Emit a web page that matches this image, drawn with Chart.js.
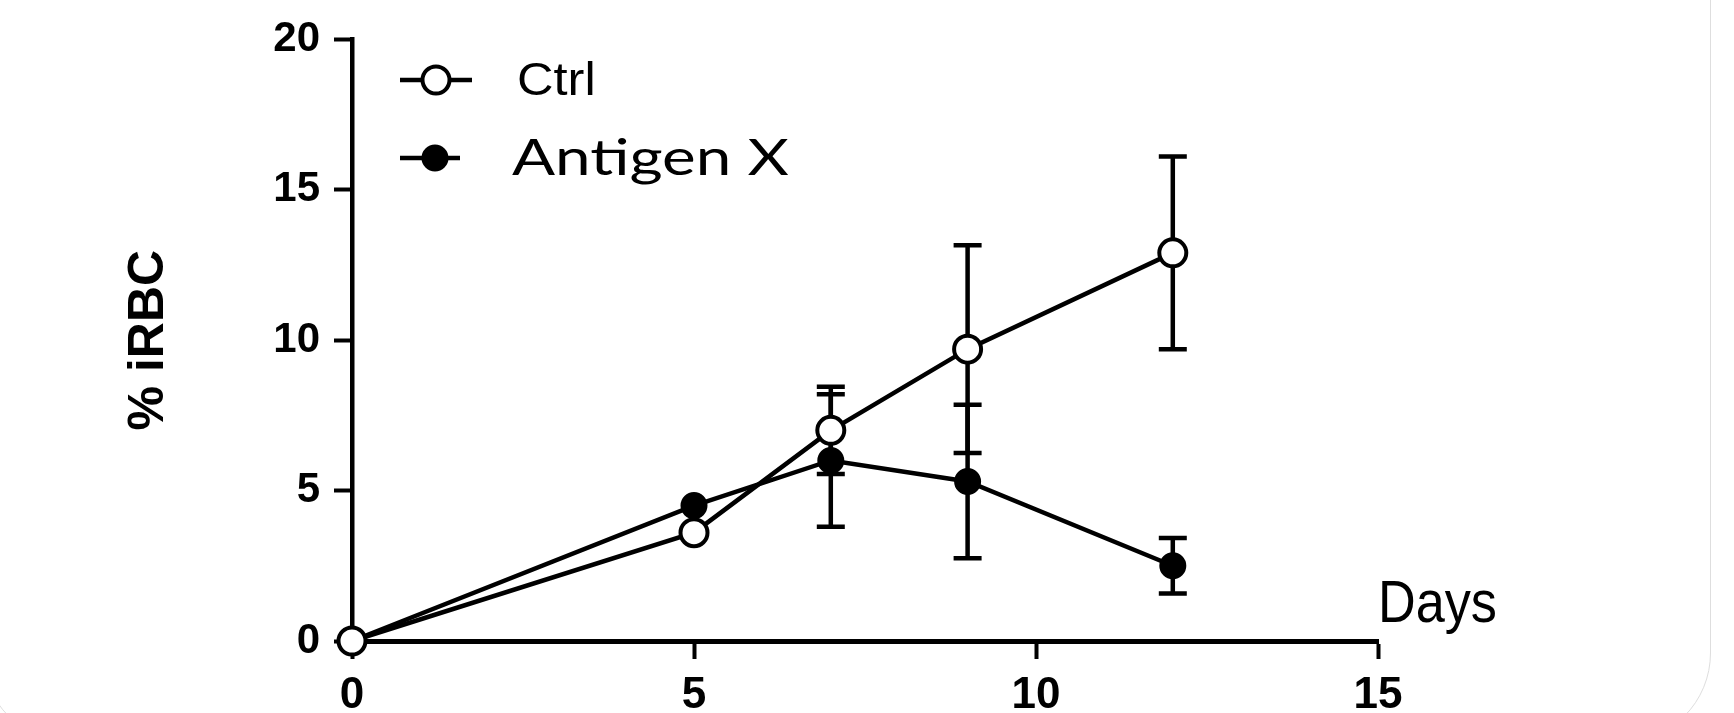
<!DOCTYPE html>
<html>
<head>
<meta charset="utf-8">
<script src="https://cdn.jsdelivr.net/npm/chart.js@4.4.1/dist/chart.umd.min.js"></script>
<style>
html, body { margin: 0; padding: 0; background: #fff; overflow: hidden; }
#wrap { position: relative; width: 1734px; height: 713px; overflow: hidden; }
#card { position: absolute; left: -18px; top: -200px; width: 1729px; height: 943px; border: 1.5px solid #dedede; border-radius: 90px; box-sizing: border-box; }
#mainChart { position: absolute; left: 0; top: 0; }
</style>
</head>
<body>
<div id="wrap">
  <div id="card"></div>
  <canvas id="mainChart" width="1734" height="713"></canvas>
</div>
<script>
// datos
const days = [0, 5, 7, 9, 12];
const ctrlValues = [0, 3.6, 7.0, 9.7, 12.9];
const ctrlErrors = [0, 0, 1.45, 3.45, 3.2];
const antigenValues = [0, 4.5, 6.0, 5.3, 2.5];
const antigenErrors = [0, 0, 2.2, 2.55, 0.92];
const xTicks = [0, 5, 10, 15];
const yTicks = [0, 5, 10, 15, 20];
const seriesLabels = ['Ctrl', 'Antigen X'];
const xAxisLabel = 'Days';
const yAxisLabel = '% iRBC';

const ARIAL = "'Liberation Sans', Arial, sans-serif";

function toPoints(vals){
  return days.map((d, i) => ({ x: d, y: vals[i] }));
}

// barras de error (media +/- error), antes de los puntos
const errorBars = {
  id: 'errorBars',
  beforeDatasetsDraw(chart){
    const { ctx, scales: { x, y } } = chart;
    ctx.save();
    ctx.strokeStyle = '#000';
    ctx.lineWidth = 4.5;
    chart.data.datasets.forEach(ds => {
      ds.errors.forEach((e, i) => {
        if(!e) return;
        const p = ds.data[i];
        const px = x.getPixelForValue(p.x);
        const top = y.getPixelForValue(p.y + e);
        const bot = y.getPixelForValue(p.y - e);
        ctx.beginPath();
        ctx.moveTo(px, top); ctx.lineTo(px, bot);
        ctx.moveTo(px - 14, top); ctx.lineTo(px + 14, top);
        ctx.moveTo(px - 14, bot); ctx.lineTo(px + 14, bot);
        ctx.stroke();
      });
    });
    ctx.restore();
  }
};

// leyenda tipo GraphPad (linea + marcador)
const lineLegend = {
  id: 'lineLegend',
  afterDraw(chart, args, opts){
    const ctx = chart.ctx;
    chart.data.datasets.forEach((ds, i) => {
      const it = opts.items[i];
      ctx.save();
      ctx.strokeStyle = '#000';
      ctx.lineWidth = ds.borderWidth;
      ctx.beginPath();
      ctx.moveTo(it.x0, it.y); ctx.lineTo(it.x1, it.y);
      ctx.stroke();
      ctx.beginPath();
      ctx.arc(it.cx, it.y, ds.pointRadius, 0, Math.PI * 2);
      ctx.fillStyle = ds.pointBackgroundColor;
      ctx.fill();
      ctx.lineWidth = ds.pointBorderWidth;
      ctx.stroke();
      ctx.font = it.font;
      ctx.fillStyle = '#000';
      ctx.textBaseline = 'alphabetic';
      ctx.translate(it.tx, it.ty);
      ctx.scale(it.sx, 1);
      ctx.fillText(ds.label, 0, 0);
      ctx.restore();
    });
  }
};

// etiqueta "Days" sobre el final del eje x
const daysLabel = {
  id: 'daysLabel',
  afterDraw(chart){
    const { ctx, scales: { x, y } } = chart;
    ctx.save();
    ctx.font = '60px ' + ARIAL;
    ctx.fillStyle = '#000';
    ctx.textBaseline = 'alphabetic';
    ctx.translate(x.right, y.getPixelForValue(0) - 19);
    ctx.scale(0.87, 1);
    ctx.fillText(xAxisLabel, 0, 0);
    ctx.restore();
  }
};

const ctx = document.getElementById('mainChart').getContext('2d');

const chart = new Chart(ctx, {
  type: 'line',
  data: {
    datasets: [
      {
        label: seriesLabels[0],
        data: toPoints(ctrlValues),
        errors: ctrlErrors,
        borderColor: '#000',
        borderWidth: 4.5,
        pointRadius: 13.5,
        pointBorderWidth: 4,
        pointBackgroundColor: '#fff',
        pointBorderColor: '#000',
        tension: 0,
        clip: false
      },
      {
        label: seriesLabels[1],
        data: toPoints(antigenValues),
        errors: antigenErrors,
        borderColor: '#000',
        borderWidth: 4.5,
        pointRadius: 12,
        pointBorderWidth: 3,
        pointBackgroundColor: '#000',
        pointBorderColor: '#000',
        tension: 0,
        clip: false
      }
    ]
  },
  options: {
    responsive: false,
    animation: false,
    events: [],
    layout: { padding: { top: 35, right: 356, left: 0, bottom: 0 } },
    plugins: {
      legend: { display: false },
      tooltip: { enabled: false },
      lineLegend: {
        items: [
          { x0: 400, x1: 472, cx: 436, y: 80, tx: 517, ty: 95, font: '46px ' + ARIAL, sx: 1.1 },
          { x0: 400, x1: 460, cx: 435, y: 158, tx: 512, ty: 175, font: "51px Lato, 'Open Sans', sans-serif", sx: 1.25 }
        ]
      }
    },
    scales: {
      x: {
        type: 'linear',
        min: 0,
        max: 15,
        afterBuildTicks: s => { s.ticks = xTicks.map(v => ({ value: v })); },
        afterFit: s => { s.height = 72; },
        grid: { drawOnChartArea: false, drawTicks: true, tickLength: 18, tickColor: '#000', tickWidth: 4 },
        border: { display: true, color: '#000', width: 5 },
        ticks: { color: '#000', padding: 10, font: { family: ARIAL, size: 44, weight: 'bold' } }
      },
      y: {
        type: 'linear',
        min: 0,
        max: 20,
        afterBuildTicks: s => { s.ticks = yTicks.map(v => ({ value: v })); },
        afterFit: s => { s.width = 352; },
        grid: { drawOnChartArea: false, drawTicks: true, tickLength: 18, tickColor: '#000', tickWidth: 4 },
        border: { display: true, color: '#000', width: 4.5 },
        ticks: { color: '#000', padding: 14, font: { family: ARIAL, size: 42, weight: 'bold' } },
        title: { display: true, text: yAxisLabel, color: '#000', padding: { top: 119, bottom: 0 }, font: { family: ARIAL, size: 50, weight: 'bold' } }
      }
    }
  },
  plugins: [errorBars, lineLegend, daysLabel]
});
</script>
</body>
</html>
